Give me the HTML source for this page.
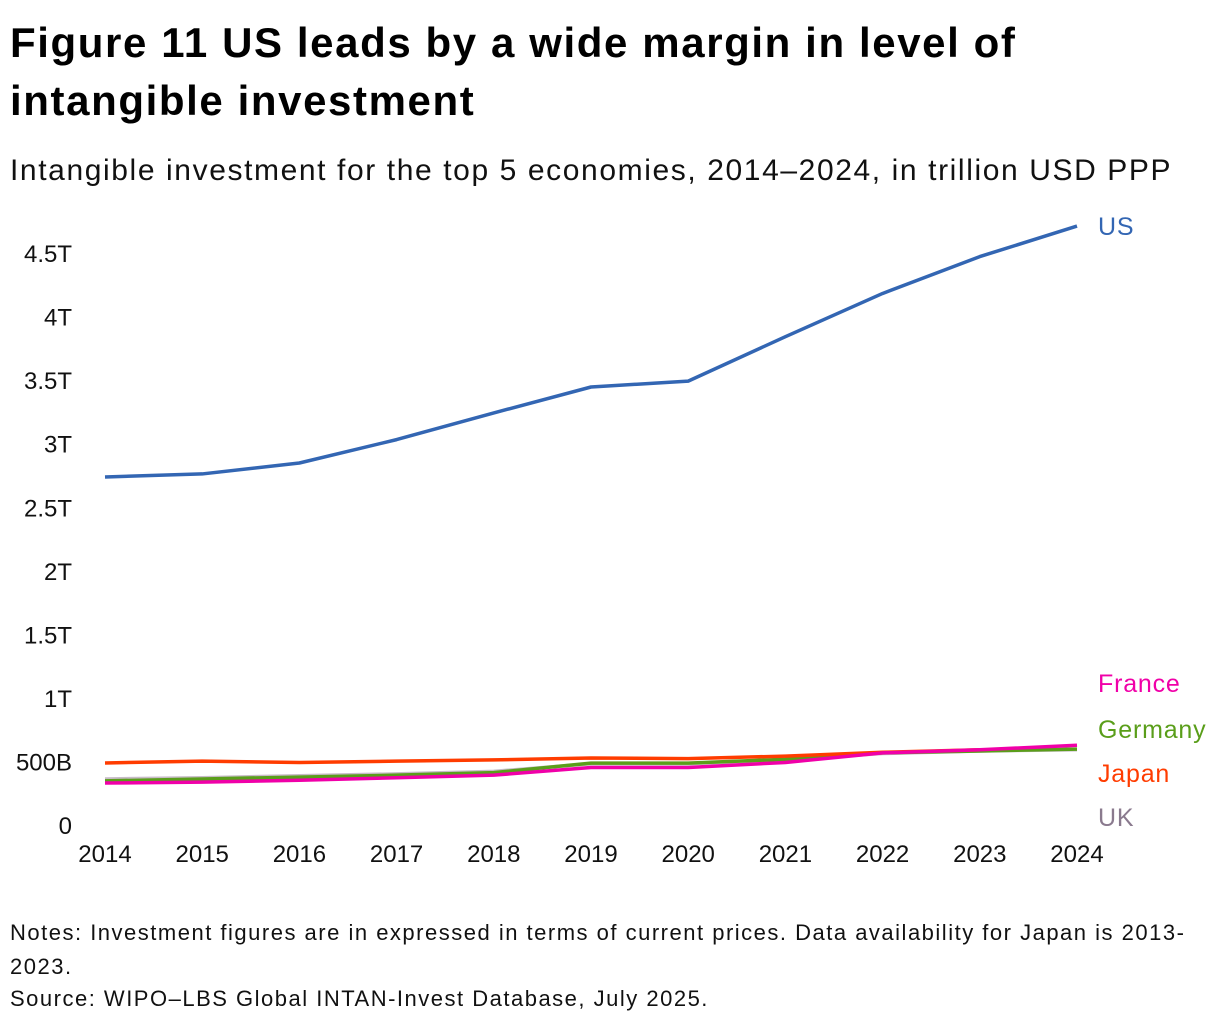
<!DOCTYPE html>
<html><head><meta charset="utf-8"><style>
body{margin:0;background:#fff;font-family:"Liberation Sans","DejaVu Sans",sans-serif;}
#wrap{position:relative;width:1220px;height:1026px;overflow:hidden}
h1{position:absolute;left:10px;top:14px;margin:0;font-size:42px;line-height:58px;font-weight:bold;color:#000;width:1210px;letter-spacing:1.6px;white-space:nowrap}
.sub{position:absolute;left:10px;top:154px;font-size:30px;color:#111;letter-spacing:1.6px;white-space:nowrap}
.note{position:absolute;left:10px;font-size:22px;color:#111;letter-spacing:1.5px;white-space:nowrap}
svg{position:absolute;left:0;top:0}
</style></head><body><div id="wrap">
<h1>Figure 11 US leads by a wide margin in level of<br>intangible investment</h1>
<div class="sub">Intangible investment for the top 5 economies, 2014–2024, in trillion USD PPP</div>
<svg id="chart" width="1220" height="1026"></svg>
<div class="note" style="top:916px;line-height:34px">Notes: Investment figures are in expressed in terms of current prices. Data availability for Japan is 2013-<br>2023.</div>
<div class="note" style="top:986px">Source: WIPO–LBS Global INTAN-Invest Database, July 2025.</div>
</div>
<script>
const years=[2014,2015,2016,2017,2018,2019,2020,2021,2022,2023,2024];
const yTicks=[0,0.5,1,1.5,2,2.5,3,3.5,4,4.5];
const yTickLabels=["0","500B","1T","1.5T","2T","2.5T","3T","3.5T","4T","4.5T"];
const us=[2.746,2.77,2.856,3.04,3.25,3.454,3.50,3.85,4.19,4.48,4.72];
const uk=[0.37,0.38,0.395,0.41,0.43,0.49,0.49,0.52,0.57,0.59,0.60];
const germany=[0.355,0.37,0.385,0.40,0.42,0.495,0.495,0.525,0.575,0.59,0.605];
const japan=[0.496,0.51,0.50,0.51,0.52,0.535,0.53,0.55,0.58,0.60];
const france=[0.338,0.345,0.36,0.38,0.40,0.46,0.46,0.50,0.575,0.60,0.635];
const NS="http://www.w3.org/2000/svg",svg=document.getElementById('chart');
const x=i=>105+i*97.2, y=v=>826-v*127.1;
function mk(t,a){const e=document.createElementNS(NS,t);for(const k in a)e.setAttribute(k,a[k]);svg.appendChild(e);return e;}
yTicks.forEach((v,i)=>{const t=mk('text',{x:72,y:y(v)+8,'text-anchor':'end','font-size':24,fill:'#111'});


t.textContent=yTickLabels[i];});
years.forEach((yr,i)=>{const t=mk('text',{x:x(i),y:862,'text-anchor':'middle','font-size':24,fill:'#111'});


t.textContent=yr;});
const series=[["uk",uk,"#c8bcc8","UK",826],["germany",germany,"#5a9e1a","Germany",738],["japan",japan,"#ff3c00","Japan",782],["france",france,"#f000a8","France",692],["us",us,"#3366b3","US",235]];
series.forEach(s=>{const p=mk('polyline',{points:s[1].map((v,i)=>x(i)+','+y(v)).join(' '),fill:'none',stroke:s[2],'stroke-width':3.5,'stroke-linejoin':'round'});

});
series.forEach(s=>{const t=mk('text',{x:1098,y:s[4],'font-size':25,'letter-spacing':'0.8',fill:s[0]=="uk"?'#8a7a8e':s[2]});


t.textContent=s[3];});
</script></body></html>
